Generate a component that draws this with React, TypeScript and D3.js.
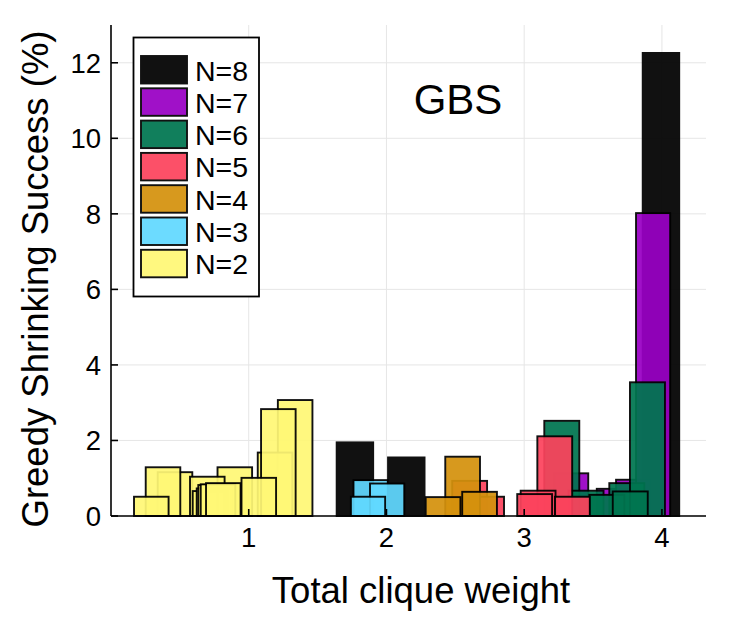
import React from 'react';
import * as d3 from 'd3';

const W = 747, H = 641;
const margin = { top: 25, right: 41, bottom: 125, left: 111 };

const xTicks = [1, 2, 3, 4];
const yTicks = [0, 2, 4, 6, 8, 10, 12];

// bars are listed in the order they are painted (later ones sit on top)
const n8Weight = [1.771, 2.144, 3.993];
const n8Success = [1.95, 1.55, 12.26];

const n7Weight = [3.341, 3.651, 3.791, 3.936];
const n7Success = [1.13, 0.72, 0.96, 8.02];

const n6Weight = [3.273, 3.449, 3.745, 3.600, 3.895, 3.770];
const n6Success = [2.52, 0.67, 0.87, 0.56, 3.54, 0.65];

const n5Weight = [2.604, 2.727, 3.222, 3.101, 3.076, 3.350];
const n5Success = [0.93, 0.51, 2.11, 0.67, 0.58, 0.51];

const n4Weight = [2.553, 2.411, 2.676];
const n4Success = [1.57, 0.50, 0.64];

const n3Weight = [1.885, 2.005, 1.866];
const n3Success = [0.95, 0.86, 0.51];

const n2Weight = [1.337, 1.191, 1.215, 0.8989, 1.073, 0.4647, 0.6992, 0.7188, 0.7478, 0.7594, 0.7769, 0.8154, 0.3776, 0.2926];
const n2Success = [3.07, 1.68, 2.83, 1.29, 1.01, 1.16, 1.04, 0.66, 0.73, 0.82, 0.84, 0.87, 1.29, 0.51];

const labels = ['N=8', 'N=7', 'N=6', 'N=5', 'N=4', 'N=3', 'N=2'];
const colors = ['#000000', '#9900c4', '#007650', '#fc435d', '#d5920d', '#61d9ff', '#fff876'];
const barWidths = [0.265, 0.248, 0.254, 0.253, 0.252, 0.249, 0.251];

const series = [
  { x: n8Weight, y: n8Success },
  { x: n7Weight, y: n7Success },
  { x: n6Weight, y: n6Success },
  { x: n5Weight, y: n5Success },
  { x: n4Weight, y: n4Success },
  { x: n3Weight, y: n3Success },
  { x: n2Weight, y: n2Success },
].map((s, i) => ({ ...s, label: labels[i], color: colors[i], width: barWidths[i] }));

const FONT = '"Liberation Sans", Arial, Helvetica, sans-serif';
const ALPHA = 0.93;

export default function App() {
  const x = d3.scaleLinear().domain([0, 4.32]).range([margin.left, W - margin.right]);
  const y = d3.scaleLinear().domain([0, 13]).range([H - margin.bottom, margin.top]);
  const x0 = x.range()[0], x1 = x.range()[1];
  const yb = y.range()[0], yt = y.range()[1];

  const legX = 133.5, legY = 37.5, legW = 125.5, legH = 259;
  const rowH = 32.3;

  return (
    <svg width={W} height={H} style={{ position: 'absolute', left: 0, top: 0 }} fontFamily={FONT}>
      <rect x={0} y={0} width={W} height={H} fill="#fff" />
      {/* grid */}
      <g stroke="#e6e6e6" strokeWidth={1}>
        {xTicks.map(t => <line key={'gx' + t} x1={x(t)} x2={x(t)} y1={yt} y2={yb} />)}
        {yTicks.map(t => <line key={'gy' + t} x1={x0} x2={x1} y1={y(t)} y2={y(t)} />)}
      </g>
      {/* bars */}
      {series.map(s => (
        <g key={s.label}>
          {s.x.map((v, i) => (
            <rect key={i}
              x={x(v - s.width / 2)} width={x(s.width) - x(0)}
              y={y(s.y[i])} height={yb - y(s.y[i])}
              fill={s.color} stroke="#000" strokeWidth={1.9} opacity={ALPHA} />
          ))}
        </g>
      ))}
      {/* axes */}
      <g stroke="#000" strokeWidth={1.6}>
        <line x1={x0} x2={x1} y1={yb} y2={yb} />
        <line x1={x0} x2={x0} y1={yt} y2={yb} />
        {xTicks.map(t => <line key={'tx' + t} x1={x(t)} x2={x(t)} y1={yb} y2={yb - 7} />)}
        {yTicks.map(t => <line key={'ty' + t} x1={x0} x2={x0 + 7} y1={y(t)} y2={y(t)} />)}
      </g>
      <g fontSize={27.5} fill="#000">
        {xTicks.map(t => <text key={'lx' + t} x={x(t)} y={547} textAnchor="middle">{t}</text>)}
        {yTicks.map(t => <text key={'ly' + t} x={101} y={y(t) + 10} textAnchor="end">{t}</text>)}
      </g>
      <text x={421} y={603} textAnchor="middle" fontSize={36.5}>Total clique weight</text>
      <text transform={`translate(48,279) rotate(-90)`} textAnchor="middle" fontSize={36.5}>Greedy Shrinking Success (%)</text>
      <text x={458} y={114} textAnchor="middle" fontSize={42}>GBS</text>
      {/* legend */}
      <rect x={legX} y={legY} width={legW} height={legH} fill="#fff" stroke="#000" strokeWidth={1.8} />
      {series.map((s, i) => (
        <g key={'leg' + s.label} transform={`translate(0,${56 + i * rowH})`}>
          <rect x={141} y={0} width={46} height={27.5} fill={s.color} stroke="#000" strokeWidth={1.9} opacity={ALPHA} />
          <text x={195} y={24.5} fontSize={28.5}>{s.label}</text>
        </g>
      ))}
    </svg>
  );
}
